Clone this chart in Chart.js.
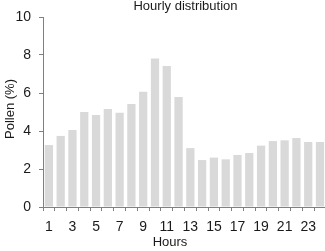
<!DOCTYPE html>
<html>
<head>
<meta charset="utf-8">
<script src="https://cdn.jsdelivr.net/npm/chart.js@4"></script>
<style>
  html, body { margin: 0; padding: 0; overflow: hidden; background: #fff; }
  #wrap { position: relative; width: 328px; height: 251px; }
</style>
</head>
<body>
<div id="wrap"><canvas id="pollenChart"></canvas></div>
<script>
// Hourly pollen share (% of daily total)
const hours = ['1','2','3','4','5','6','7','8','9','10','11','12','13','14','15','16','17','18','19','20','21','22','23','24'];
const pollenPct = [3.26, 3.74, 4.05, 5.0, 4.84, 5.16, 4.96, 5.42, 6.07, 7.81, 7.42, 5.79, 3.1, 2.47, 2.6, 2.51, 2.74, 2.84, 3.23, 3.47, 3.51, 3.63, 3.42, 3.42];
const yTicks = [0, 2, 4, 6, 8, 10];

const chartTitle = 'Hourly distribution';
const xTitle = 'Hours';
const yTitle = 'Pollen (%)';

const textColor = '#1a1a1a';
const axisColor = '#808080';
const fontFamily = 'Arial, "Liberation Sans", sans-serif';

// draws the title and axis titles where the original puts them
const titlesPlugin = {
    id: 'titles',
    afterDraw(chart) {
        const c = chart.ctx;
        c.save();
        c.fillStyle = textColor;
        c.font = '13px ' + fontFamily;
        c.textAlign = 'center';
        c.textBaseline = 'alphabetic';
        c.fillText(chartTitle, 185.5, 9.5);
        c.fillText(xTitle, 170, 246);
        c.translate(13.5, 109);
        c.rotate(-Math.PI / 2);
        c.fillText(yTitle, 0, 0);
        c.restore();
    }
};

const ctx = document.getElementById('pollenChart').getContext('2d');
const pollenChart = new Chart(ctx, {
    type: 'bar',
    data: {
        labels: hours,
        datasets: [{
            label: 'Pollen (%)',
            data: pollenPct,
            backgroundColor: '#d9d9d9',
            borderWidth: 0,
            categoryPercentage: 1.0,
            barPercentage: 0.7
        }]
    },
    options: {
        responsive: true,
        maintainAspectRatio: false,
        animation: false,
        layout: { padding: { top: 17, left: 0, right: 0, bottom: 0 } },
        plugins: {
            legend: { display: false },
            tooltip: { enabled: false },
            title: { display: false }
        },
        scales: {
            x: {
                grid: {
                    offset: true,
                    drawOnChartArea: false,
                    drawTicks: true,
                    tickLength: 4,
                    color: axisColor
                },
                border: { color: axisColor, width: 1 },
                ticks: {
                    autoSkip: false,
                    maxRotation: 0,
                    padding: 8,
                    color: textColor,
                    font: { size: 14, family: fontFamily },
                    callback: (val, i) => (i % 2 === 0 ? hours[i] : '')
                },
                afterFit: scale => { scale.height = 44; }
            },
            y: {
                min: 0,
                max: 10,
                afterBuildTicks: scale => { scale.ticks = yTicks.map(v => ({ value: v })); },
                grid: {
                    drawOnChartArea: false,
                    drawTicks: true,
                    tickLength: 4,
                    color: axisColor
                },
                border: { color: axisColor, width: 1 },
                ticks: {
                    padding: 8,
                    color: textColor,
                    font: { size: 14, family: fontFamily }
                },
                afterFit: scale => { scale.width = 43; }
            }
        }
    },
    plugins: [titlesPlugin]
});
</script>
</body>
</html>
